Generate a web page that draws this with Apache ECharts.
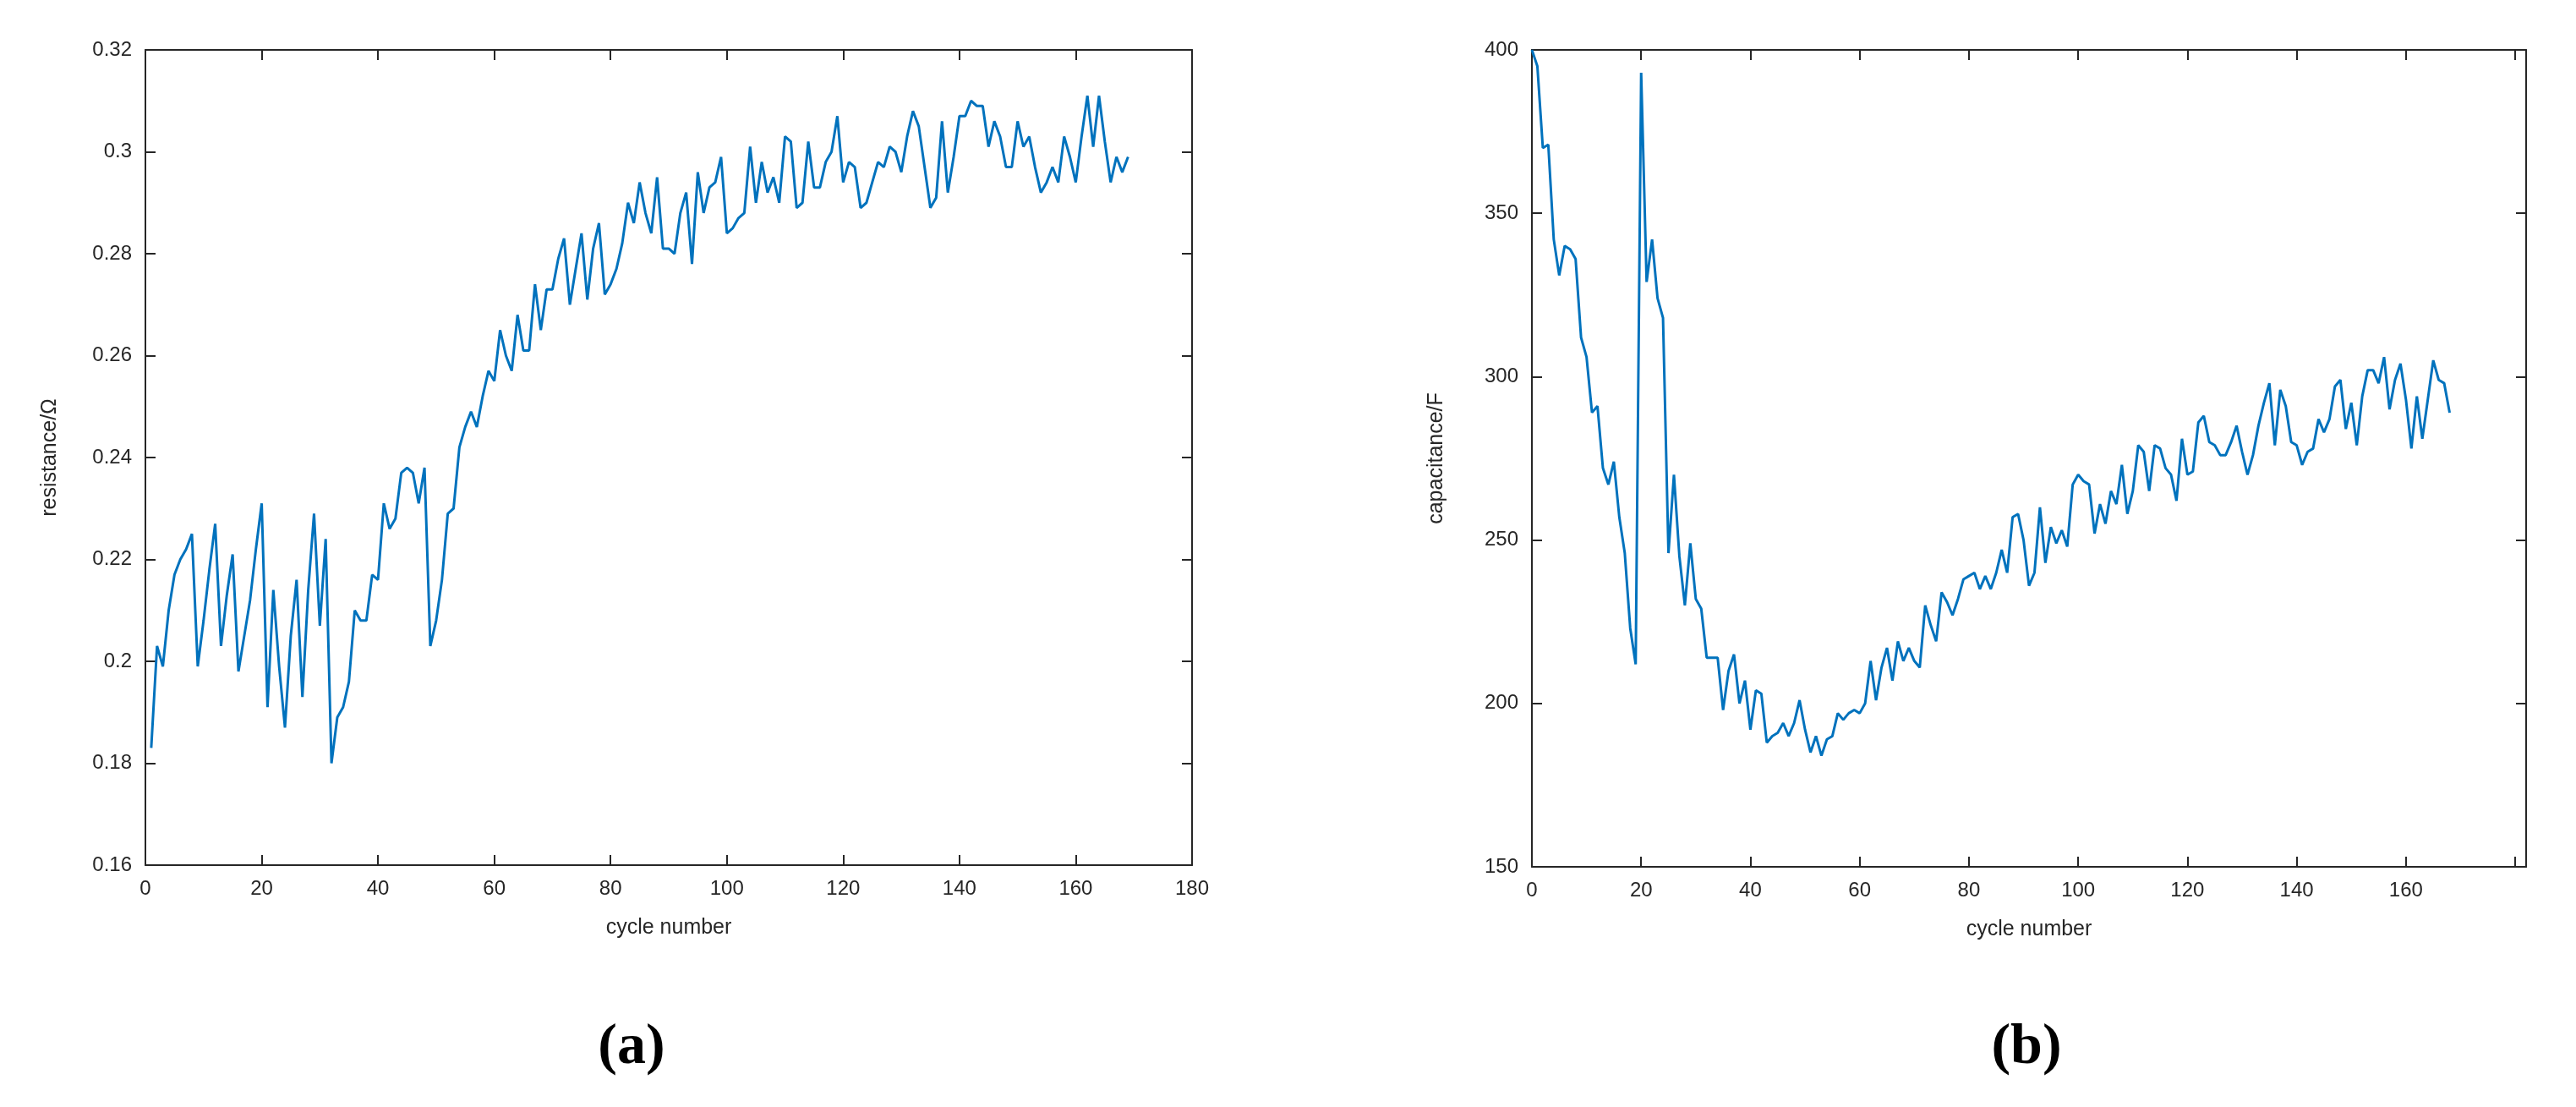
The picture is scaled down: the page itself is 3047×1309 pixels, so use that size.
<!DOCTYPE html>
<html><head><meta charset="utf-8">
<script src="https://cdn.jsdelivr.net/npm/echarts@6/dist/echarts.min.js"></script>
<style>html,body{margin:0;padding:0;background:#fff}#c{width:3047px;height:1309px}</style>
</head><body><div id="c"></div>
<script>
const resistance = [0.183,0.203,0.199,0.210,0.217,0.220,0.222,0.225,0.199,0.208,0.218,0.227,0.203,0.213,0.221,0.198,0.205,0.212,0.222,0.231,0.191,0.214,0.199,0.187,0.205,0.216,0.193,0.214,0.229,0.207,0.224,0.180,0.189,0.191,0.196,0.210,0.208,0.208,0.217,0.216,0.231,0.226,0.228,0.237,0.238,0.237,0.231,0.238,0.203,0.208,0.216,0.229,0.230,0.242,0.246,0.249,0.246,0.252,0.257,0.255,0.265,0.260,0.257,0.268,0.261,0.261,0.274,0.265,0.273,0.273,0.279,0.283,0.270,0.277,0.284,0.271,0.281,0.286,0.272,0.274,0.277,0.282,0.290,0.286,0.294,0.288,0.284,0.295,0.281,0.281,0.280,0.288,0.292,0.278,0.296,0.288,0.293,0.294,0.299,0.284,0.285,0.287,0.288,0.301,0.290,0.298,0.292,0.295,0.290,0.303,0.302,0.289,0.290,0.302,0.293,0.293,0.298,0.300,0.307,0.294,0.298,0.297,0.289,0.290,0.294,0.298,0.297,0.301,0.300,0.296,0.303,0.308,0.305,0.297,0.289,0.291,0.306,0.292,0.299,0.307,0.307,0.310,0.309,0.309,0.301,0.306,0.303,0.297,0.297,0.306,0.301,0.303,0.297,0.292,0.294,0.297,0.294,0.303,0.299,0.294,0.303,0.311,0.301,0.311,0.302,0.294,0.299,0.296,0.299];
const capacitance = [400,395,370,371,342,331,340,339,336,312,306,289,291,272,267,274,257,246,223,212,393,329,342,324,318,246,270,245,230,249,232,229,214,214,214,198,210,215,200,207,192,204,203,188,190,191,194,190,194,201,192,185,190,184,189,190,197,195,197,198,197,200,213,201,211,217,207,219,213,217,213,211,230,224,219,234,231,227,232,238,239,240,235,239,235,240,247,240,257,258,250,236,240,260,243,254,249,253,248,267,270,268,267,252,261,255,265,261,273,258,265,279,277,265,279,278,272,270,262,281,270,271,286,288,280,279,276,276,280,285,277,270,276,285,292,298,279,296,291,280,279,273,277,278,287,283,287,297,299,284,292,279,294,302,302,298,306,290,299,304,293,278,294,281,293,305,299,298,289];
const cyclesA = resistance.map((_, i) => i + 1);
const cyclesB = capacitance.map((_, i) => i);
const panelLabels = ['(a)', '(b)'];
const xTitle = 'cycle number';
const yTitles = ['resistance/Ω', 'capacitance/F'];

const ink = '#262626', font = 'Liberation Sans, Arial, sans-serif';
function axisPair(gi, min, max, interval, isX, name, labelMax) {
  const main = {
    type: 'value', gridIndex: gi, min, max, interval,
    axisLine: {show: true, onZero: false, lineStyle: {color: ink, width: 2}},
    axisTick: {show: true, inside: true, length: 12, lineStyle: {color: ink, width: 2}},
    axisLabel: {color: ink, fontSize: 24, fontFamily: font, margin: 16,
      formatter: v => (v > labelMax ? '' : String(+v.toFixed(2)))},
    splitLine: {show: false},
    name, nameLocation: 'middle', nameGap: isX ? 62 : 100,
    nameTextStyle: {color: ink, fontSize: 25, fontFamily: font}
  };
  const opp = {
    type: 'value', gridIndex: gi, min, max, interval, position: isX ? 'top' : 'right',
    axisLine: {show: true, onZero: false, lineStyle: {color: ink, width: 2}},
    axisTick: {show: true, inside: true, length: 12, lineStyle: {color: ink, width: 2}},
    axisLabel: {show: false}, splitLine: {show: false}
  };
  return [main, opp];
}
const chart = echarts.init(document.getElementById('c'));
chart.setOption({
  animation: false,
  backgroundColor: '#fff',
  title: [
    {text: panelLabels[0], left: 742, top: 1200, textAlign: 'center',
     textStyle: {fontFamily: 'Liberation Serif, Times New Roman, serif', fontSize: 68, fontWeight: 'bold', color: '#000'}},
    {text: panelLabels[1], left: 2392, top: 1200, textAlign: 'center',
     textStyle: {fontFamily: 'Liberation Serif, Times New Roman, serif', fontSize: 68, fontWeight: 'bold', color: '#000'}}
  ],
  grid: [
    {left: 172, right: 1637, top: 59, bottom: 286},
    {left: 1812, right: 59, top: 59, bottom: 284}
  ],
  xAxis: [
    ...axisPair(0, 0, 180, 20, true, xTitle, 180),
    ...axisPair(1, 0, 182, 20, true, xTitle, 160)
  ],
  yAxis: [
    ...axisPair(0, 0.16, 0.32, 0.02, false, yTitles[0], 1),
    ...axisPair(1, 150, 400, 50, false, yTitles[1], 1000)
  ],
  series: [
    {type: 'line', xAxisIndex: 0, yAxisIndex: 0, data: cyclesA.map((c, i) => [c, resistance[i]]),
     showSymbol: false, lineStyle: {color: '#0072BD', width: 3}},
    {type: 'line', xAxisIndex: 2, yAxisIndex: 2, data: cyclesB.map((c, i) => [c, capacitance[i]]),
     showSymbol: false, lineStyle: {color: '#0072BD', width: 3}}
  ]
});
</script></body></html>
